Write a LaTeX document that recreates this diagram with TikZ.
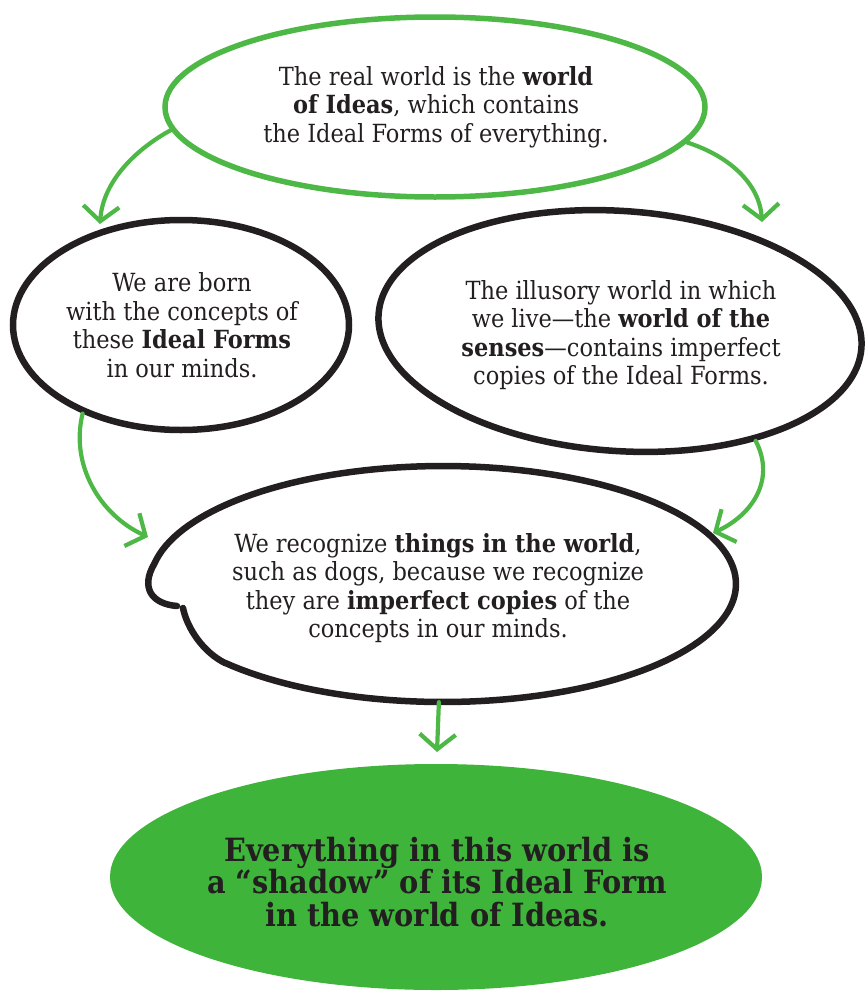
\documentclass[tikz,border=0pt]{standalone}
\usepackage{fontspec}
\setmainfont{DejaVu Serif Condensed}
\usetikzlibrary{shapes.geometric,arrows.meta}
\definecolor{lgreen}{RGB}{78,184,70}
\definecolor{fgreen}{RGB}{62,180,58}
\definecolor{ink}{RGB}{35,31,32}
\begin{document}
\begin{tikzpicture}[x=1pt,y=-1pt,
  blob/.style={ellipse, inner sep=0pt, line width=6.5pt},
  inkblob/.style={blob, draw=ink},
  inkline/.style={draw=ink, line width=6.5pt, line cap=round, line join=round},
  txt/.style={align=center, text=ink, inner sep=0pt, font=\fontsize{25}{28.5}\selectfont},
  bigtxt/.style={align=center, text=ink, inner sep=0pt, font=\bfseries\fontsize{32}{32.5}\selectfont},
  garrow/.style={draw=lgreen, line width=4.2pt, line cap=round,
    -{Straight Barb[length=15pt,width=36pt,line width=4.2pt]}}
]
\useasboundingbox (0,0) rectangle (866,993);
% ellipses
\node[blob, draw=lgreen, line width=5.5pt, minimum width=540pt, minimum height=180pt] (top) at (435,107) {};
\node[inkblob, minimum width=336pt, minimum height=210pt] (left) at (181,325) {};
\node[inkblob, minimum width=484pt, minimum height=240pt, rotate=-4] (right) at (620,331) {};
\node[ellipse, inner sep=0pt, minimum width=586pt, minimum height=236pt] (mid) at (443,584) {};
\draw[inkline] (183,608) .. controls (187,628) and (203,652) .. (225,663)
  -- plot[domain=138:-170, samples=140] ({443+293*cos(\x)},{584+118*sin(\x)})
  .. controls (140,588) and (152,604) .. (177,606);
\node[blob, fill=fgreen, draw=none, minimum width=652pt, minimum height=226pt] (bot) at (436,877) {};
% texts
\node[txt] (ttop) at (436,107) {The real world is the \textbf{world}\\ \textbf{of Ideas}, which contains\\ the Ideal Forms of everything.};
\node[txt] (tleft) at (182,325) {We are born\\ with the concepts of\\ these \textbf{Ideal Forms}\\ in our minds.};
\node[txt] (tright) at (621,335) {The illusory world in which\\ we live---the \textbf{world of the}\\ \textbf{senses}---contains imperfect\\ copies of the Ideal Forms.};
\node[txt] (tmid) at (438,588) {We recognize \textbf{things in the world},\\ such as dogs, because we recognize\\ they are \textbf{imperfect copies} of the\\ concepts in our minds.};
\node[bigtxt] (tbot) at (437,882) {Everything in this world is\\ a “shadow” of its Ideal Form\\ in the world of Ideas.};
% arrow tips
\coordinate (a1) at (100,224);
\coordinate (a2) at (762,222);
\coordinate (a3) at (148,537);
\coordinate (a4) at (713,533);
\coordinate (a5) at (437,752);
% arrows
\draw[garrow] (top.185) .. controls (138,148) and (103,180) .. (a1);
\draw[garrow] (top.352) .. controls (735,158) and (760,188) .. (a2);
\draw[garrow] (left.222) .. controls (70,465) and (100,515) .. (a3);
\draw[garrow] (right.325) .. controls (776,480) and (752,515) .. (a4);
\draw[garrow] (mid.268) -- (a5);
\end{tikzpicture}
\end{document}
